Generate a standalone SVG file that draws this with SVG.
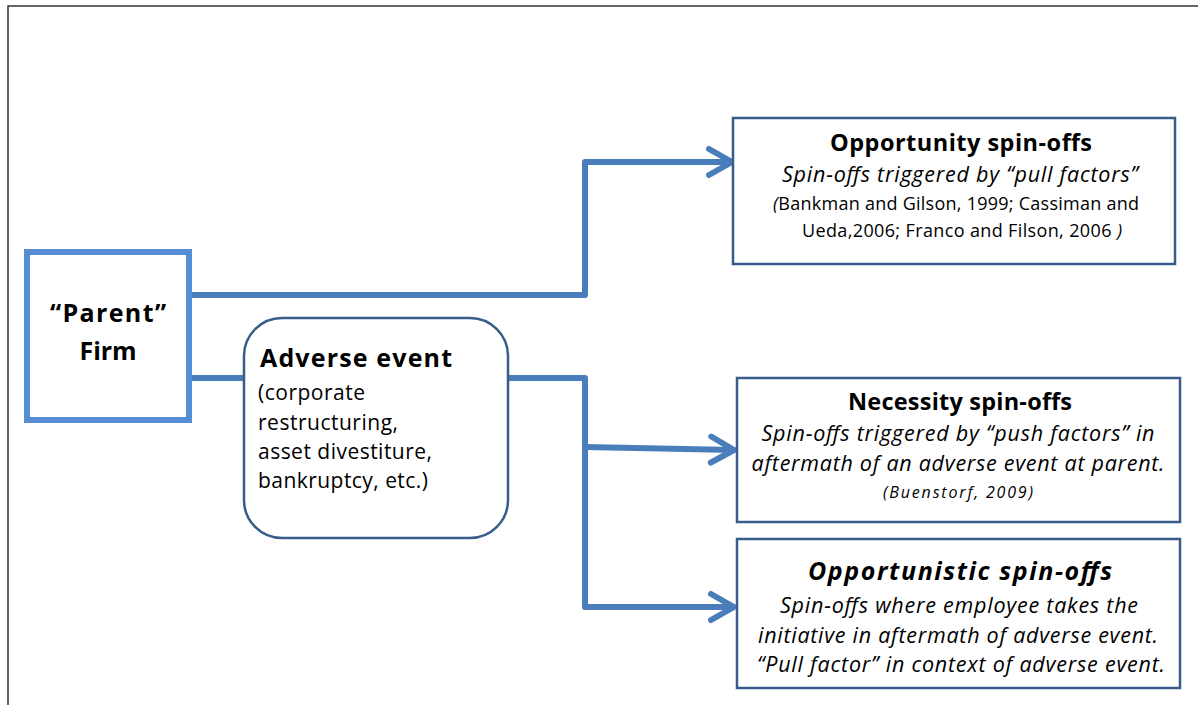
<svg xmlns="http://www.w3.org/2000/svg" width="1198" height="705" viewBox="0 0 1198 705">
<style>
text{font-family:"Open Sans","Noto Sans",Lato,"Liberation Sans",sans-serif;fill:#000}
.b{font-weight:bold}
.i{font-style:italic}
.c{text-anchor:middle}
.box{fill:#fff;stroke:#385D8A;stroke-width:2.5}
.con{fill:none;stroke:#4A7EBB;stroke-width:6;stroke-linejoin:round}
</style>
<defs>
<marker id="arr" markerUnits="userSpaceOnUse" markerWidth="40" markerHeight="40" refX="30" refY="20" orient="auto" viewBox="0 0 40 40">
<path d="M7,7 L30,20 L7,33" fill="none" stroke="#4A7EBB" stroke-width="6" stroke-linecap="round" stroke-linejoin="round"/>
</marker>
</defs>
<rect width="1198" height="705" fill="#fff"/>
<path d="M8,705 V6 H1198" fill="none" stroke="#333" stroke-width="1.5"/>
<g id="connectors">
<path class="con" d="M192,295 H585 V162 H732" marker-end="url(#arr)"/>
<path class="con" d="M192,378 H244"/>
<path class="con" d="M508,378 H585 V607 H734" marker-end="url(#arr)"/>
<path class="con" d="M585,447 L734,450" marker-end="url(#arr)"/>
</g>
<g id="parent">
<rect x="27" y="252" width="162" height="168" fill="#fff" stroke="#558ED5" stroke-width="6"/>
<text class="b c" x="108" y="322" font-size="25" textLength="116">“Parent”</text>
<text class="b c" x="108" y="360" font-size="25" textLength="57">Firm</text>
</g>
<g id="adverse">
<rect class="box" x="244" y="318" width="264" height="220" rx="38"/>
<text class="b" x="260" y="367" font-size="25" textLength="192">Adverse event</text>
<text x="258" y="400" font-size="21" textLength="107">(corporate</text>
<text x="258" y="430" font-size="21" textLength="140">restructuring,</text>
<text x="258" y="459" font-size="21" textLength="174">asset divestiture,</text>
<text x="258" y="488" font-size="21" textLength="170">bankruptcy, etc.)</text>
</g>
<g id="opportunity">
<rect class="box" x="733" y="118" width="442" height="146"/>
<text class="b c" x="961" y="151" font-size="23.5" textLength="262">Opportunity spin-offs</text>
<text class="i c" x="960" y="182" font-size="21.5" textLength="356">Spin-offs  triggered by “pull factors”</text>
<text class="c" x="956" y="210" font-size="18" textLength="366"><tspan class="i">(</tspan>Bankman and Gilson, 1999;  Cassiman and</text>
<text class="c" x="962" y="237" font-size="18" textLength="320">Ueda,2006; Franco and Filson, 2006 <tspan class="i">)</tspan></text>
</g>
<g id="necessity">
<rect class="box" x="737" y="378" width="443" height="144"/>
<text class="b c" x="960" y="410" font-size="23.5" textLength="224">Necessity spin-offs</text>
<text class="i c" x="958" y="441" font-size="21.5" textLength="393">Spin-offs  triggered by “push factors” in</text>
<text class="i c" x="958" y="471" font-size="21.5" textLength="413">aftermath of an adverse event at parent.</text>
<text class="i c" x="958" y="498" font-size="16" textLength="150">(Buenstorf, 2009)</text>
</g>
<g id="opportunistic">
<rect class="box" x="737" y="539" width="443" height="149"/>
<text class="b i c" x="960" y="580" font-size="25" textLength="304">Opportunistic spin-offs</text>
<text class="i c" x="959" y="613" font-size="21.5" textLength="358">Spin-offs  where employee takes the</text>
<text class="i c" x="958" y="643" font-size="21.5" textLength="400">initiative in aftermath of adverse event.</text>
<text class="i c" x="961" y="672" font-size="21.5" textLength="408">“Pull factor” in context of adverse  event.</text>
</g>
</svg>
